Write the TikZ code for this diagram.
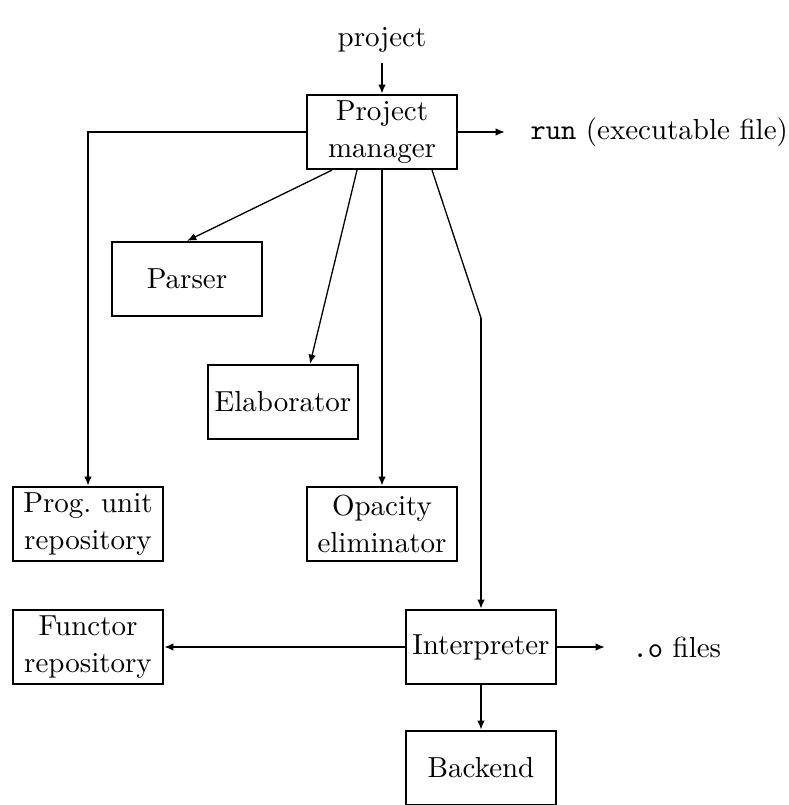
\documentclass[tikz,border=0pt]{standalone}
\usetikzlibrary{arrows.meta,calc}
\tikzset{
	unitbox/.style={draw,line width=0.8pt,minimum width=51.7pt,minimum height=25.5pt,align=center,inner sep=1pt},
	thinlink/.style={line width=0.45pt},
	thicklink/.style={line width=0.8pt},
	outlabel/.style={anchor=west,inner sep=0pt}
}
\begin{document}
\begin{tikzpicture}[
	x=0.345pt,y=-0.345pt,
	>={Latex[length=3.2pt,width=2.6pt]},
	font=\fontsize{10}{13}\selectfont,
	line cap=butt,
	line join=miter
	]
	\useasboundingbox (0,0) rectangle (789,805);
	% the units
	\node[unitbox] (manager) at (382,132) {Project\\manager};
	\node[unitbox] (parser) at (187,279) {Parser};
	\node[unitbox] (elab) at (283,402) {Elaborator};
	\node[unitbox] (progrep) at (88,524) {Prog.\ unit\\repository};
	\node[unitbox] (opacity) at (382,524) {Opacity\\eliminator};
	\node[unitbox] (functrep) at (88,647) {Functor\\repository};
	\node[unitbox] (interp) at (481,647) {Interpreter};
	\node[unitbox] (backend) at (481,768) {Backend};
	% inputs and outputs
	\node (project) at (382,40) {project};
	\node[outlabel] (runfile) at (530,132) {\texttt{run} (executable file)};
	\node[outlabel] (ofiles) at (632,647) {\texttt{.o} files};
	\coordinate (runend) at (505,132);
	\coordinate (oend) at (605,647);
	\coordinate (bend) at (481,318);
	% connectors
	\draw[->,thicklink] (project) -- (manager);
	\draw[->,thicklink] (manager.east) -- (runend);
	\draw[->,thicklink] (manager.west) -| (progrep.north);
	\draw[->,thinlink] ($(manager.south)+(-50,0)$) -- (parser.north);
	\draw[->,thinlink] ($(manager.south)+(-25,0)$) -- ($(elab.north)+(27,0)$);
	\draw[->,thicklink] (manager.south) -- (opacity.north);
	\draw[thinlink] ($(manager.south)+(50,0)$) -- (bend);
	\draw[->,thicklink] (bend) -- (interp.north);
	\draw[->,thicklink] (interp.west) -- (functrep.east);
	\draw[->,thicklink] (interp.east) -- (oend);
	\draw[->,thicklink] (interp.south) -- (backend.north);
\end{tikzpicture}
\end{document}
